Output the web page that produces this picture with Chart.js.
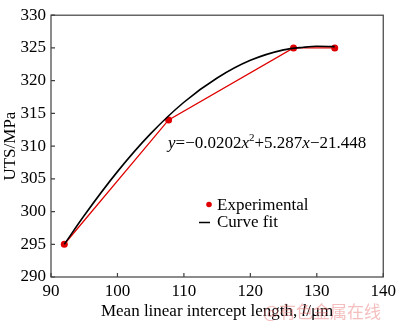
<!DOCTYPE html>
<html lang="en">
<head>
  <meta charset="UTF-8">
  <title>UTS vs mean linear intercept length</title>
  <script src="https://cdn.jsdelivr.net/npm/chart.js"></script>
  <style>
    html, body { margin: 0; padding: 0; background: #fff; }
    #box { width: 400px; height: 322px; }
  </style>
</head>
<body>

  <div id="box">
    <canvas id="grafico-uts"></canvas>
  </div>

<script>

  // valores
  const expX = [92, 107.7, 126.5, 132.7];
  const expY = [295, 314, 325, 325];

  const fitX = [92, 95, 100, 105, 110, 115, 120, 125, 128, 130, 132.7];
  const fitY = [295, 299.4, 306.1, 311.9, 316.7, 320.4, 323.1, 324.7, 325.1, 325.25, 325.2];

  const xTicks = [90, 100, 110, 120, 130, 140];
  const yTicks = [290, 295, 300, 305, 310, 315, 320, 325, 330];

  const fonte = '"Liberation Serif", "Times New Roman", serif';
  const corEixo = '#404040';

  function pares(xs, ys) {
    return xs.map((x, i) => ({ x: x, y: ys[i] }));
  }

  // escreve pedaços de texto com estilos diferentes na mesma linha
  function textoMisto(ctx, partes, x, base) {
    partes.forEach(p => {
      ctx.font = p[1] + ' ' + p[2] + 'px ' + fonte;
      ctx.fillText(p[0], x, base + p[3]);
      x += ctx.measureText(p[0]).width;
    });
  }

  // moldura, ticks internos, título do eixo x, equação, legenda e marca d'água
  const extras = {
    id: 'extras',
    afterDraw(chart) {
      const ctx = chart.ctx;
      const a = chart.chartArea;
      const sx = chart.scales.x;
      const sy = chart.scales.y;
      ctx.save();

      ctx.strokeStyle = corEixo;
      ctx.lineWidth = 1.2;
      ctx.strokeRect(a.left, a.top, a.right - a.left, a.bottom - a.top);

      ctx.beginPath();
      xTicks.forEach(v => {
        const px = sx.getPixelForValue(v);
        ctx.moveTo(px, a.bottom);
        ctx.lineTo(px, a.bottom - 4);
      });
      yTicks.forEach(v => {
        const py = sy.getPixelForValue(v);
        ctx.moveTo(a.left, py);
        ctx.lineTo(a.left + 4, py);
      });
      ctx.stroke();

      ctx.fillStyle = '#000';
      ctx.textBaseline = 'alphabetic';
      ctx.textAlign = 'left';

      // título do eixo x (com l em itálico)
      const titulo = [
        ['Mean linear intercept length, ', 'normal', 17, 0],
        ['l', 'italic', 17, 0],
        ['/\u03bcm', 'normal', 17, 0]
      ];
      let largura = 0;
      titulo.forEach(p => {
        ctx.font = p[1] + ' ' + p[2] + 'px ' + fonte;
        largura += ctx.measureText(p[0]).width;
      });
      textoMisto(ctx, titulo, (a.left + a.right) / 2 - largura / 2, 316);

      // equação do ajuste
      textoMisto(ctx, [
        ['y', 'italic', 17, 0],
        ['=\u22120.0202', 'normal', 17, 0],
        ['x', 'italic', 17, 0],
        ['2', 'normal', 11, -7],
        ['+5.287', 'normal', 17, 0],
        ['x', 'italic', 17, 0],
        ['\u221221.448', 'normal', 17, 0]
      ], 168, 148);

      // legenda
      ctx.font = '17px ' + fonte;
      ctx.textBaseline = 'middle';
      ctx.fillStyle = '#e00000';
      ctx.beginPath();
      ctx.arc(209, 204.5, 2.8, 0, Math.PI * 2);
      ctx.fill();
      ctx.fillStyle = '#000';
      ctx.fillText('Experimental', 217, 206);
      ctx.strokeStyle = '#000';
      ctx.lineWidth = 1.5;
      ctx.beginPath();
      ctx.moveTo(199, 222.5);
      ctx.lineTo(210, 222.5);
      ctx.stroke();
      ctx.fillText('Curve fit', 217, 223);

      // marca d'água
      ctx.font = '17px "Noto Sans CJK SC", sans-serif';
      ctx.fillStyle = 'rgba(232, 110, 110, 0.45)';
      ctx.fillText('@有色金属在线', 263, 312);

      ctx.restore();
    }
  };

  const ctx = document.getElementById('grafico-uts');

  new Chart(ctx, {
    type: 'line',
    data: {
      datasets: [
        {
          label: 'Curve fit',
          data: pares(fitX, fitY),
          borderColor: '#000',
          borderWidth: 1.6,
          pointRadius: 0,
          cubicInterpolationMode: 'monotone',
          fill: false
        },
        {
          label: 'Experimental',
          data: pares(expX, expY),
          borderColor: '#e00000',
          backgroundColor: '#e00000',
          borderWidth: 1.3,
          pointRadius: 3.5,
          pointBorderWidth: 0,
          tension: 0,
          fill: false
        }
      ]
    },
    options: {
      responsive: true,
      maintainAspectRatio: false,
      animation: false,
      layout: {
        padding: { top: 6, right: 12, left: 0, bottom: 0 }
      },
      plugins: {
        legend: { display: false },
        tooltip: { enabled: false }
      },
      scales: {
        x: {
          type: 'linear',
          min: 90,
          max: 140,
          afterBuildTicks: s => { s.ticks = xTicks.map(v => ({ value: v })); },
          afterFit: s => { s.height = 45; },
          grid: { display: false, drawTicks: false },
          border: { display: false },
          ticks: {
            padding: 4,
            color: '#000',
            font: { family: fonte, size: 17 }
          }
        },
        y: {
          type: 'linear',
          min: 290,
          max: 330,
          afterBuildTicks: s => { s.ticks = yTicks.map(v => ({ value: v })); },
          afterFit: s => { s.width = 51; },
          grid: { display: false, drawTicks: false },
          border: { display: false },
          ticks: {
            padding: 5,
            color: '#000',
            font: { family: fonte, size: 17 }
          },
          title: {
            display: true,
            text: 'UTS/MPa',
            color: '#000',
            font: { family: fonte, size: 17 },
            padding: { top: 0, bottom: 0 }
          }
        }
      }
    },
    plugins: [extras]
  });

</script>

</body>
</html>
